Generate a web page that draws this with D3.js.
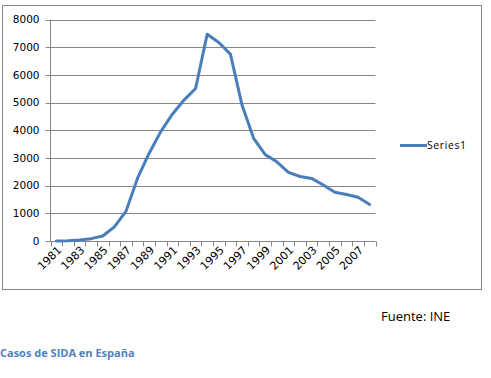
<!DOCTYPE html>
<html><head><meta charset="utf-8">
<script src="https://cdn.jsdelivr.net/npm/d3@7"></script>
<style>body{margin:0;background:#fff;}svg{display:block;}</style>
</head><body>
<script>
const years = ["1981","1982","1983","1984","1985","1986","1987","1988","1989","1990","1991","1992","1993","1994","1995","1996","1997","1998","1999","2000","2001","2002","2003","2004","2005","2006","2007","2008"];
const series1 = [2,12,35,85,180,510,1070,2270,3170,3950,4580,5090,5510,7470,7170,6750,4910,3710,3120,2860,2480,2330,2260,2020,1760,1680,1580,1320];
const yTicks = [0,1000,2000,3000,4000,5000,6000,7000,8000];
const seriesName = "Series1";

const W=491,H=378;
const svg=d3.select("body").append("svg").attr("width",W).attr("height",H);
const grid="#868686";
svg.append("rect").attr("x",2.5).attr("y",5.5).attr("width",479).attr("height",284)
  .attr("fill","none").attr("stroke",grid);

const x=d3.scaleBand().domain(years).range([50.5,375.5]).paddingInner(0).paddingOuter(0);
const y=d3.scaleLinear().domain([0,8000]).range([241,19.5]);

// gridlines
svg.append("g").selectAll("line").data(yTicks.filter(d=>d>0)).join("line")
  .attr("x1",50.5).attr("x2",375.5).attr("y1",d=>Math.round(y(d))+0.5).attr("y2",d=>Math.round(y(d))+0.5)
  .attr("stroke",grid).attr("stroke-width",1);

// y axis
const ya=svg.append("g").attr("transform","translate(50.5,0)");
ya.append("line").attr("x1",0).attr("x2",0).attr("y1",y(8000)).attr("y2",241.5).attr("stroke",grid);
ya.selectAll("line.t").data(yTicks).join("line").attr("class","t")
  .attr("x1",-5).attr("x2",0).attr("y1",d=>Math.round(y(d))+0.5).attr("y2",d=>Math.round(y(d))+0.5).attr("stroke",grid);
ya.selectAll("text").data(yTicks).join("text")
  .attr("x",-11).attr("y",d=>y(d)).attr("dy","0.36em").attr("text-anchor","end")
  .attr("font-family","DejaVu Sans, Verdana, sans-serif").attr("font-size",10.5).attr("fill","#000")
  .text(d=>d);

// x axis
const xa=svg.append("g");
xa.append("line").attr("x1",50.5).attr("x2",375.5).attr("y1",241.5).attr("y2",241.5).attr("stroke",grid);
const bounds=years.map(d=>x(d)).concat([x.range()[1]]);
xa.selectAll("line.t").data(bounds).join("line").attr("class","t")
  .attr("x1",d=>Math.round(d)+0.5).attr("x2",d=>Math.round(d)+0.5).attr("y1",241.5).attr("y2",246.5).attr("stroke",grid);
xa.selectAll("text").data(years.filter((d,i)=>i%2===0)).join("text")
  .attr("transform",d=>`translate(${x(d)+x.bandwidth()/2+3},${248}) rotate(-45)`)
  .attr("text-anchor","end").attr("dy","0.36em")
  .attr("font-family","DejaVu Sans, Verdana, sans-serif").attr("font-size",11).attr("fill","#000")
  .text(d=>d);

// line
const line=d3.line().x((d,i)=>x(years[i])+x.bandwidth()/2).y(d=>y(d));
svg.append("path").datum(series1).attr("d",line).attr("fill","none")
  .attr("stroke","#4a7ebb").attr("stroke-width",3).attr("stroke-linejoin","round").attr("stroke-linecap","round");

// legend
svg.append("line").attr("x1",400).attr("x2",427).attr("y1",145.5).attr("y2",145.5)
  .attr("stroke","#4a7ebb").attr("stroke-width",3);
svg.append("text").attr("x",427).attr("y",145.5).attr("dy","0.36em")
  .attr("font-family","Open Sans, sans-serif").attr("font-size",10.5).attr("letter-spacing",0.6).attr("fill","#000")
  .text(seriesName);

svg.append("text").attr("x",381).attr("y",321).attr("font-family","Open Sans, sans-serif").attr("font-size",13)
  .attr("fill","#000").text("Fuente: INE");
svg.append("text").attr("x",0).attr("y",357).attr("font-family","Open Sans, sans-serif").attr("font-size",11)
  .attr("font-weight","bold").attr("fill","#4f81bd").text("Casos de SIDA en España");
</script>
</body></html>
